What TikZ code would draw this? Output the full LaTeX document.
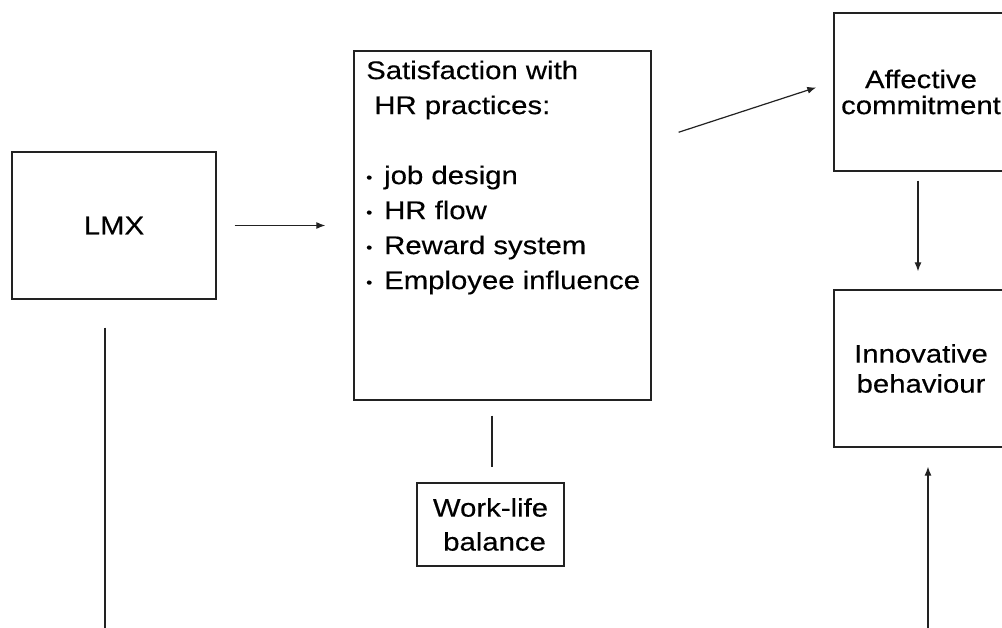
\documentclass[tikz,border=0pt]{standalone}
\usepackage{fontspec}
\setmainfont{Liberation Sans}[FakeStretch=1.15,FakeBold=0.3]
\usetikzlibrary{arrows.meta,calc}
\definecolor{ink}{HTML}{222222}
\newcommand\bul{\makebox[18pt][l]{\fontsize{15}{15}\selectfont\raisebox{1.5pt}{•}}}
\tikzset{
  box/.style={draw=ink, line width=1.3pt, inner sep=0pt, align=center},
  lbl/.style={font=\fontsize{25.5}{#1}\selectfont},
  arr/.style={draw=ink, line width=1.2pt, -{Latex[length=9pt,width=7pt]}},
  link/.style={draw=ink, line width=1.2pt},
}
\begin{document}
\begin{tikzpicture}[x=1pt,y=-1pt]
\useasboundingbox (0,0) rectangle (1002,628);
\clip (0,0) rectangle (1002,628);
\fill[white] (0,0) rectangle (1002,628);

% boxes
\node[box, lbl=26, minimum width=204pt, minimum height=147pt] (lmx) at (114,225.5) {LMX};
\node[box, minimum width=297pt, minimum height=349pt] (sat) at (502.5,225.5) {};
\node[anchor=north west, inner sep=0pt, align=left, lbl=35] (sattext) at (366,60.4)
  {Satisfaction with\\ \ HR practices:\\[35pt]
   \bul job design\\ \bul HR flow\\ \bul Reward system\\ \bul Employee influence};
\node[box, lbl=26, minimum width=174pt, minimum height=158pt] (aff) at (921,92) {Affective\\commitment};
\node[box, lbl=30, minimum width=174pt, minimum height=157pt] (inn) at (921,368.5) {Innovative\\behaviour};
\node[box, lbl=34, minimum width=147pt, minimum height=83pt] (wlb) at (490.5,524.5) {Work-life\\ \ balance};

% connectors
\draw[arr, shorten <=18pt, shorten >=28pt] (lmx.east) -- (lmx.east -| sat.west);
\draw[arr, shorten <=28.4pt, shorten >=17.9pt]
  ($(sat.north east)+(0,90.7)$) -- ($(aff.north west)+(0,69.5)$);
\draw[arr, shorten <=9pt, shorten >=18pt] ($(aff.south)+(-3,0)$) -- ($(inn.north)+(-3,0)$);
\draw[link, shorten <=15pt, shorten >=15pt] ($(sat.south -| wlb.north)+(1.5,0)$) -- ($(wlb.north)+(1.5,0)$);
\coordinate (lmxfoot) at (105,640);
\draw[link, shorten <=28pt] (lmx.south -| lmxfoot) -- (lmxfoot);
\coordinate (innfoot) at (928,640);
\draw[arr, shorten >=19pt] (innfoot) -- (inn.south -| innfoot);
\end{tikzpicture}
\end{document}
